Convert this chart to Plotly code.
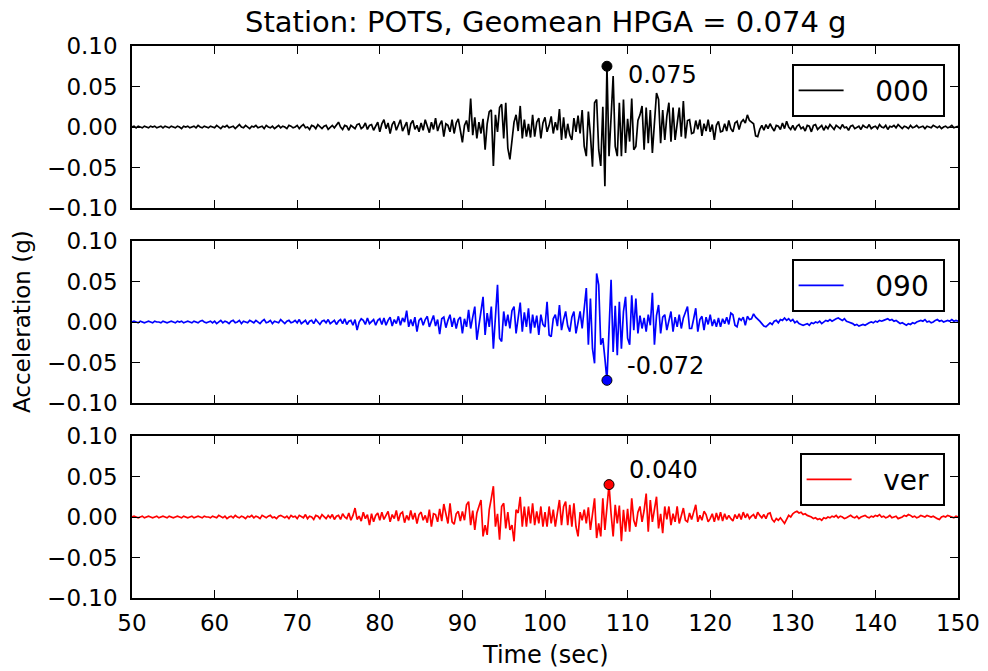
import numpy as np
import plotly.graph_objects as go

# ---------------- data (acceleration in milli-g, sampled every 0.25 s from 50 s) ----------------
t_start = 50.0
t_step = 0.25

acc_000_mg = [
    0, 1, -1, 1, 0, -1, 1, 0, -1, 1, 0, 1, -1, 0, 1, -1, 1, 0, -1, 1,
    0, -1, 1, 0, -2, 1, 0, 1, -1, 0, 1, -1, 2, 0, -1, 1, 0, -1, 1, 0,
    -1, 2, 0, -2, 1, 0, 2, -1, 0, 1, -2, 1, 3, 0, -1, 2, 0, -2, 1, 0,
    2, -1, 0, 1, -2, 2, 0, -1, 1, -2, 0, 2, -1, 1, 0, -2, 2, 1, -1, 0,
    2, -2, 1, 3, -1, 0, -3, 2, 1, -2, 3, 0, -2, 1, 2, -3, 0, 2, -1, 3,
    6, 0, -3, 2, 1, -4, 2, 0, -2, 3, 4, -2, 0, 5, -3, 2, 3, -4, 1, 6,
    -6, 4, 9, -2, 5, -8, 3, 7, -4, 2, 9, -5, 0, 6, -10, 4, 8, -3, 2, -6,
    5, -4, 9, 2, -7, 6, -3, 11, -5, 3, 8, -12, 4, 2, -6, 9, -8, 5, 10, -4,
    -19, 2, 8, -6, 35, -10, 12, -14, 6, -8, 10, -28, 4, 19, 21, -48, 15, -6, 24, 28,
    -14, 30, -26, -40, -16, 6, 15, -5, 26, -14, 9, -12, 4, -13, 15, -12, 6, 11, -14, 5,
    12, -6, 2, 13, -8, 6, -4, 22, -16, 12, -14, 4, -10, -16, 11, -6, 14, -8, 21, -24,
    -36, 19, -10, -49, 30, 34, -28, -48, 25, -73, 75, -36, 12, 63, -24, -36, 30, -36, 34, -32,
    10, -18, 35, -28, -24, 8, 15, 26, -28, 24, -20, 21, -32, 5, 42, 34, -20, 21, -16, 13,
    30, -18, 24, -16, 6, 24, -12, 32, -14, 8, 9, -8, -7, 8, -3, 9, -11, 4, -5, 9,
    -6, 3, -16, 2, 7, -6, -5, 4, -5, 8, -2, -6, 5, 7, -3, 6, 9, 5, 15, 8,
    6, 4, -11, -12, -3, 2, -4, 3, -2, 4, -1, -5, 2, 1, -3, 5, -2, 7, 0, -3,
    2, -4, 1, 3, -2, 0, -5, 2, 1, -6, 2, 3, -3, 0, 2, -4, 1, -2, 3, 0,
    -3, 2, 0, -2, 3, -1, 0, -4, 1, 2, -2, 0, 1, -3, 2, 0, -1, 3, -2, 0,
    1, -2, 3, 0, -1, 2, -3, 1, 0, 2, -1, 3, 0, -2, 1, 0, -2, 2, -1, 0,
    2, -1, 0, 1, -2, 1, 0, -1, 2, 0, -1, 1, -2, 0, 1, -1, 0, 2, -1, 0, 1,
]

acc_090_mg = [
    0, 1, 0, -1, 1, 0, -1, 0, 1, 0, -1, 1, 0, 0, -1, 1, 0, -1, 0, 1,
    0, -1, 1, 0, 1, -1, 0, 1, 0, -1, 1, 0, -1, 1, 2, 0, -1, 0, 1, -1,
    1, -2, 0, 2, -1, 1, 0, -2, 1, 2, -1, 0, 2, -2, 1, 0, -1, 2, 0, -1,
    2, 0, -2, 1, 3, -1, 0, 2, -2, 1, 0, -1, 3, 0, -2, 1, 2, -1, 0, 2,
    -1, 3, -2, 0, 2, -3, 1, 2, -2, 3, 0, -3, 1, 2, -1, 3, -2, 0, 2, -3,
    1, 3, -2, 4, -3, 1, 2, -4, 3, -10, 0, 4, 2, -3, 5, -2, 0, 3, -4, 2,
    4, -3, 5, -4, 2, 6, -5, 3, -2, 7, -4, 5, 0, 14, -6, 3, -5, 6, -12, 2,
    5, -4, 3, 7, -6, 2, 8, -5, 3, -15, 4, 6, -7, 2, 9, -6, 5, -8, 3, 6,
    -14, 4, -6, 15, -8, 6, 19, -22, -4, 10, 31, -16, 11, -6, 19, -33, 5, 46, -20, -24,
    13, -5, 9, -8, 14, 19, -14, 5, 24, -12, 12, -6, 17, -14, 9, -7, 8, -16, 9, -3,
    -6, 25, -16, -18, 4, 9, -5, 21, -10, 3, 13, -5, -12, 6, 13, -14, 2, 13, -8, 19,
    42, -28, 29, -33, -51, 60, 46, -28, -20, -45, -72, -10, 52, -37, 20, -41, 25, -33, 13, 31,
    -20, -28, 33, -10, 29, -14, 8, -8, 5, -12, 9, -4, 36, -28, 8, 21, -14, 6, 9, -10,
    4, 13, -12, 6, -6, 9, -8, 5, 12, 19, -8, -8, 4, 17, -12, 3, 7, -10, 6, -3,
    9, -5, 3, -6, 5, -6, 4, -2, 6, -3, 11, 9, -4, -6, 5, 2, 6, -4, 7, 3,
    4, 10, 6, 4, 1, -2, -5, -6, -4, -1, -3, 1, 2, -1, 3, 2, 5, 2, 4, 1,
    3, -1, 1, -2, -3, -4, -3, -2, -4, -1, -2, 0, -1, 1, -2, 0, 2, 1, 3, 1,
    3, 4, 5, 3, 2, 4, 1, 0, -1, -2, -4, -3, -5, -4, -3, -4, -2, -1, 0, -1,
    1, 0, 2, 1, 2, 3, 4, 2, 3, 1, 2, 0, -2, -1, -3, -4, -2, -3, -1, -2,
    0, 1, 2, 1, 3, 0, 1, -1, 0, 2, 3, 1, 2, 0, 1, 2, 1, 3, 1, 2, 1,
]

acc_ver_mg = [
    0, 1, 0, -1, 0, 1, -1, 0, 1, 0, -1, 0, 1, -1, 0, 1, 0, -1, 1, 0,
    -1, 0, 1, 0, -1, 1, 0, -1, 0, 1, -1, 0, 1, 0, -1, 1, 0, 0, -1, 1,
    0, -1, 2, 0, -1, 1, -2, 0, 1, -1, 2, 0, -1, 1, 0, -2, 1, 0, 2, -1,
    1, 0, -2, 2, 0, -1, 1, 2, -1, 0, -2, 1, 2, 0, -1, 1, -2, 2, 0, 1,
    -2, 2, 0, -1, 3, -2, 1, 0, -3, 2, 1, -2, 3, 0, -2, 2, -1, 3, -3, 1,
    2, -3, 4, 0, -2, 5, -4, 2, 11, -3, 1, -5, 6, -2, 3, -10, 4, -6, 2, 5,
    -4, 6, -3, 2, 7, -6, 3, -2, 8, -5, 4, 6, -7, 2, -4, 8, -3, 5, -8, 3,
    6, -4, 2, -7, 9, -12, 4, 3, -6, 10, -5, 16, 2, -8, 17, -6, -9, 4, 7, -5,
    7, -4, 15, 19, -10, 8, -16, 5, 13, 21, -24, -10, -22, 9, 23, 38, -12, 4, -28, 13,
    17, -14, 6, -16, -10, -30, 9, 5, 25, -12, 13, -12, 13, -8, 17, -10, 7, -8, 13, -12,
    6, -12, 13, -8, 9, -12, 5, 21, -10, 13, 19, -10, 15, -12, 17, -12, -24, 6, -4, 9,
    -8, 12, -16, 6, 23, -26, -8, -24, 23, -16, 14, 40, 4, -24, 15, -8, 14, -30, 9, -18,
    10, -18, 23, -4, -12, 6, 13, -6, 8, 29, -18, 21, -6, 8, 25, -14, 4, -20, 13, -3,
    13, -10, 4, -6, 13, -8, 3, 11, -4, -6, 5, -3, 6, 15, -6, 2, -4, 7, 3, -6,
    -2, 4, -6, 5, -4, 6, -5, 4, -3, 2, -2, -5, 3, -2, 4, -3, 6, -1, 4, -2,
    1, 3, -2, 6, 2, -1, 3, -2, 4, 5, -3, -6, -2, -4, -1, -5, -8, -3, 2, 0,
    4, 6, 7, 5, 6, 3, 4, 2, 1, 0, -2, -1, -3, -2, -4, -1, -2, 0, -1, 1,
    0, 2, -1, 1, 0, -2, -1, 1, 2, 0, -1, 1, -2, 0, 1, 2, 0, -1, 1, 0,
    2, 1, 3, 0, 1, -1, 0, 2, -1, 0, 1, -2, -1, 0, 2, 1, 3, 2, 0, 1,
    -1, 0, 2, 1, 0, 2, 1, 0, 1, -1, -2, -3, 0, 1, 0, 2, 1, 0, -1, 1, 0,
]

components = ["000", "090", "ver"]
line_colors = ["#000000", "#0000ff", "#ff0000"]
title_text = "Station: POTS, Geomean HPGA = 0.074 g"
x_ticks = [50, 60, 70, 80, 90, 100, 110, 120, 130, 140, 150]
y_ticks = [-0.10, -0.05, 0.00, 0.05, 0.10]

# ---------------- figure ----------------
FONT = "DejaVu Sans"
W, H = 988, 671
L, R, T, B = 132, 30, 46, 73
plot_h = H - T - B
panel_h = 162
gap = (plot_h - 3 * panel_h) / 2
NB = "\u00a0"

series = [acc_000_mg, acc_090_mg, acc_ver_mg]
fig = go.Figure()
layout_axes = {}
annotations = []
text_xshift = [19, 18, 18]
text_yshift = [-9, 14, 15]
legend_top_px = [64, 259, 453]

for i, (name, vals, col) in enumerate(zip(components, series, line_colors)):
    k = "" if i == 0 else str(i + 1)
    acc = np.array(vals, dtype=float) / 1000.0
    t = t_start + t_step * np.arange(len(acc))
    fig.add_trace(go.Scatter(
        x=t, y=acc, mode="lines", name=NB * 3 + name + NB,
        line=dict(color=col, width=1.7),
        xaxis="x" + k, yaxis="y" + k,
        legend="legend" + k,
    ))
    ip = int(np.argmax(np.abs(acc)))
    fig.add_trace(go.Scatter(
        x=[t[ip]], y=[acc[ip]], mode="markers", showlegend=False,
        marker=dict(color=col, size=10, line=dict(color="#000000", width=1)),
        xaxis="x" + k, yaxis="y" + k, hoverinfo="skip",
    ))
    annotations.append(dict(
        x=t[ip], y=acc[ip], xref="x" + k, yref="y" + k,
        text=f"{acc[ip]:.3f}", showarrow=False, xanchor="left", yanchor="middle",
        xshift=text_xshift[i], yshift=text_yshift[i],
        font=dict(family=FONT, size=24, color="#000"),
    ))
    top_px = T + i * (panel_h + gap)
    bot_px = top_px + panel_h
    d0 = (H - B - bot_px) / plot_h
    d1 = (H - B - top_px) / plot_h
    axis_common = dict(
        showline=True, linecolor="#000", linewidth=1.6, mirror="allticks",
        ticks="inside", ticklen=8, tickwidth=1.2, tickcolor="#000",
        showgrid=False, zeroline=False, automargin=False,
        tickfont=dict(family=FONT, size=23, color="#000"),
    )
    layout_axes["xaxis" + k] = dict(
        axis_common, range=[50, 150], tickvals=x_ticks, anchor="y" + k,
        domain=[0, 1], showticklabels=(i == 2), ticklabelstandoff=4,
        matches=None if i == 0 else "x",
    )
    layout_axes["yaxis" + k] = dict(
        axis_common, range=[-0.1, 0.1], tickvals=y_ticks, tickformat=".2f",
        anchor="x" + k, domain=[d0, d1], ticklabelstandoff=8,
    )

legends = {}
for i in range(3):
    k = "" if i == 0 else str(i + 1)
    legends["legend" + k] = dict(
        x=945 / W, y=1 - legend_top_px[i] / H, xanchor="right", yanchor="top",
        xref="container", yref="container",
        bgcolor="#ffffff", bordercolor="#000000", borderwidth=1.6,
        font=dict(family=FONT, size=28, color="#000"), itemwidth=45,
    )

annotations.append(dict(
    x=0.5, y=1, xref="paper", yref="paper", yshift=24, yanchor="middle",
    text=title_text, showarrow=False, font=dict(family=FONT, size=29, color="#000"),
))
annotations.append(dict(
    x=0.5, y=0, xref="paper", yref="paper", yshift=-57, yanchor="middle",
    text="Time (sec)", showarrow=False, font=dict(family=FONT, size=24, color="#000"),
))
annotations.append(dict(
    x=0, y=0.5, xref="paper", yref="paper", xshift=-110, xanchor="center",
    text="Acceleration (g)", textangle=-90, showarrow=False,
    font=dict(family=FONT, size=23, color="#000"),
))

fig.update_layout(
    width=W, height=H, margin=dict(l=L, r=R, t=T, b=B, autoexpand=False),
    paper_bgcolor="#ffffff", plot_bgcolor="#ffffff",
    annotations=annotations, showlegend=True,
    **layout_axes, **legends,
)
fig.write_html("out.html")
